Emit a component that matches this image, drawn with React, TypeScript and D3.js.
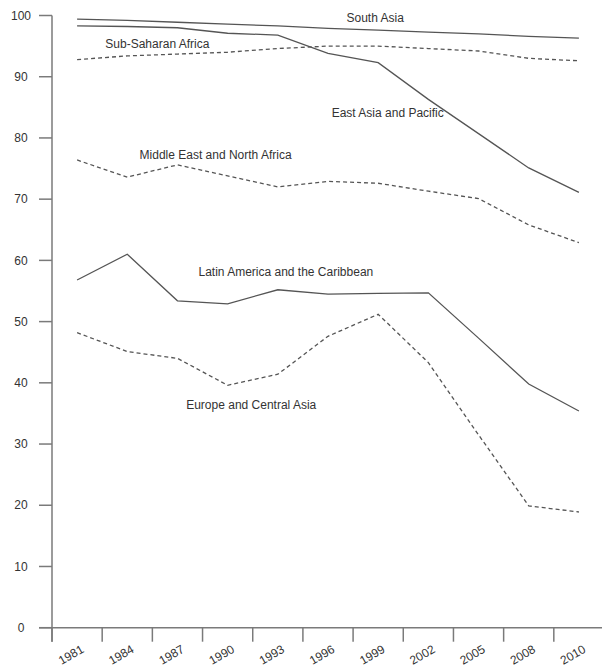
import React from "react";
import * as d3 from "d3";

const years = ["1981", "1984", "1987", "1990", "1993", "1996", "1999", "2002", "2005", "2008", "2010"];
const southAsia = [99.4, 99.2, 98.9, 98.6, 98.3, 97.9, 97.6, 97.3, 97.0, 96.6, 96.3];
const eastAsiaPacific = [98.3, 98.2, 98.0, 97.1, 96.8, 93.8, 92.3, 86.3, 80.7, 75.1, 71.1];
const subSaharanAfrica = [92.8, 93.4, 93.7, 94.0, 94.6, 95.0, 95.0, 94.6, 94.2, 93.0, 92.6];
const middleEastNorthAfrica = [76.4, 73.6, 75.6, 73.8, 72.0, 72.9, 72.6, 71.3, 70.1, 65.8, 62.9];
const latinAmerica = [56.8, 61.0, 53.4, 52.9, 55.2, 54.5, 54.6, 54.7, 47.3, 39.8, 35.4];
const europeCentralAsia = [48.2, 45.1, 44.0, 39.6, 41.4, 47.6, 51.2, 43.3, 31.5, 19.9, 18.9];
const yTicks = [0, 10, 20, 30, 40, 50, 60, 70, 80, 90, 100];

const seriesList = [
  { name: "South Asia", values: southAsia, dashed: false },
  { name: "East Asia and Pacific", values: eastAsiaPacific, dashed: false },
  { name: "Sub-Saharan Africa", values: subSaharanAfrica, dashed: true },
  { name: "Middle East and North Africa", values: middleEastNorthAfrica, dashed: true },
  { name: "Latin America and the Caribbean", values: latinAmerica, dashed: false },
  { name: "Europe and Central Asia", values: europeCentralAsia, dashed: true },
];

// label anchors in data space: [index position along x, value]
const labelText = ["South Asia", "Sub-Saharan Africa", "East Asia and Pacific", "Middle East and North Africa", "Latin America and the Caribbean", "Europe and Central Asia"];
const labelIdx = [5.94, 1.6, 6.19, 2.76, 4.16, 3.47];
const labelVal = [99.0, 94.74, 83.37, 76.51, 57.45, 35.67];

export default function App() {
  const W = 602, H = 668;
  const y = d3.scaleLinear().domain([0, 100]).range([627.7, 15.5]);
  const x = d3.scaleBand<string>().domain(years).range([52, 604]).padding(0);
  const bw = x.bandwidth();
  const cx = (i: number) => (x(years[i]) as number) + bw / 2;
  const idxX = d3.scaleLinear().domain([0, years.length - 1]).range([cx(0), cx(years.length - 1)]);
  const line = d3
    .line<number>()
    .x((_, i) => cx(i))
    .y((v) => y(v));

  const axisColor = "#7a7a7a";
  const lineColor = "#555";
  const textColor = "#333";
  const font = "'Liberation Sans', Arial, Helvetica, sans-serif";
  const y0 = y(0);

  return (
    <svg width={W} height={H} style={{ position: "absolute", left: 0, top: 0, background: "#fff" }} fontFamily={font}>
      {/* y axis */}
      <line x1={52} x2={52} y1={y(100)} y2={y0 + 14} stroke={axisColor} strokeWidth={1.5} />
      {yTicks.map((t) => (
        <g key={t}>
          <line x1={39} x2={52} y1={y(t)} y2={y(t)} stroke={axisColor} strokeWidth={1.5} />
          <text x={21} y={y(t)} dy="0.35em" textAnchor="middle" fontSize={12} fill={textColor}>
            {t}
          </text>
        </g>
      ))}
      {/* x axis */}
      <line x1={39} x2={W} y1={y0} y2={y0} stroke={axisColor} strokeWidth={1.5} />
      {years.map((yr) => {
        const tx = x(yr) as number;
        return (
          <g key={yr}>
            <line x1={tx} x2={tx} y1={y0} y2={y0 + 14} stroke={axisColor} strokeWidth={1.5} />
            <text
              transform={`translate(${tx + 19},${y0 + 27}) rotate(-30)`}
              textAnchor="middle"
              dy="0.35em"
              fontSize={12}
              fill={textColor}
            >
              {yr}
            </text>
          </g>
        );
      })}
      {/* series */}
      {seriesList.map((s) => (
        <path
          key={s.name}
          d={line(s.values) || ""}
          fill="none"
          stroke={lineColor}
          strokeWidth={1.3}
          strokeDasharray={s.dashed ? "4,3" : undefined}
        />
      ))}
      {/* labels */}
      {labelText.map((t, i) => (
        <text key={t} x={idxX(labelIdx[i])} y={y(labelVal[i])} textAnchor="middle" fontSize={12} fill={textColor}>
          {t}
        </text>
      ))}
    </svg>
  );
}
